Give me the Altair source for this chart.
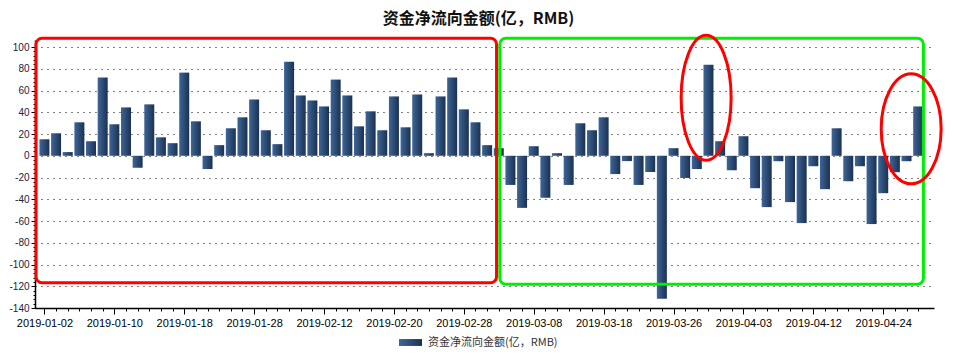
import json
import altair as alt
import pandas as pd

# ---- data ----
dates = [
    "2019-01-02", "2019-01-03", "2019-01-04", "2019-01-07", "2019-01-08", "2019-01-09",
    "2019-01-10", "2019-01-11", "2019-01-14", "2019-01-15", "2019-01-16", "2019-01-17",
    "2019-01-18", "2019-01-21", "2019-01-22", "2019-01-23", "2019-01-24", "2019-01-25",
    "2019-01-28", "2019-01-29", "2019-01-30", "2019-01-31", "2019-02-01", "2019-02-11",
    "2019-02-12", "2019-02-13", "2019-02-14", "2019-02-15", "2019-02-18", "2019-02-19",
    "2019-02-20", "2019-02-21", "2019-02-22", "2019-02-25", "2019-02-26", "2019-02-27",
    "2019-02-28", "2019-03-01", "2019-03-04", "2019-03-05", "2019-03-06", "2019-03-07",
    "2019-03-08", "2019-03-11", "2019-03-12", "2019-03-13", "2019-03-14", "2019-03-15",
    "2019-03-18", "2019-03-19", "2019-03-20", "2019-03-21", "2019-03-22", "2019-03-25",
    "2019-03-26", "2019-03-27", "2019-03-28", "2019-03-29", "2019-04-01", "2019-04-02",
    "2019-04-03", "2019-04-04", "2019-04-08", "2019-04-09", "2019-04-10", "2019-04-11",
    "2019-04-12", "2019-04-15", "2019-04-16", "2019-04-17", "2019-04-18", "2019-04-19",
    "2019-04-24", "2019-04-25", "2019-04-26", "2019-04-29",
]
values = [
    15.2, 20.7, 3.4, 30.8, 13.4, 72.0, 29.0, 44.5, -11.0, 47.3, 17.0, 11.6,
    76.5, 31.7, -12.2, 9.8, 25.3, 35.4, 51.8, 23.5, 10.7, 86.6, 55.5, 50.9,
    45.4, 70.1, 55.5, 27.1, 40.9, 23.5, 54.6, 26.2, 56.4, 2.4, 54.6, 72.0,
    42.7, 30.8, 9.8, 7.0, -26.8, -47.9, 8.8, -38.7, 2.4, -26.8, 29.9, 23.5,
    35.4, -16.8, -4.9, -26.8, -14.9, -131.6, 7.0, -20.4, -12.2, 83.8, 13.4, -13.3,
    18.0, -29.8, -47.2, -5.0, -42.6, -61.9, -9.6, -30.7, 25.3, -23.4, -9.6, -62.8,
    -34.4, -15.1, -5.0, 45.4,
]
tick_labels = [
    "2019-01-02", "2019-01-10", "2019-01-18", "2019-01-28", "2019-02-12", "2019-02-20",
    "2019-02-28", "2019-03-08", "2019-03-18", "2019-03-26", "2019-04-03", "2019-04-12",
    "2019-04-24",
]
series_name = "资金净流向金额(亿，RMB)"
title_text = "资金净流向金额(亿，RMB)"

# annotation boxes drawn over the chart (bar-index / value coordinates)
box_x = [-0.72, 39.09]
box_x2 = [38.81, 75.45]
box_y = [108.1, 108.1]
box_y2 = [-116.8, -118.2]
box_color = ["#ff0000", "#00ee00"]
ring_x = [56.8, 74.4]
ring_y = [53.3, 24.8]

df = pd.DataFrame({"idx": list(range(len(values))), "date": dates, "value": values,
                   "series": [series_name] * len(values)})
boxes = pd.DataFrame({"idx": box_x, "idx2": box_x2, "value": box_y, "value2": box_y2,
                      "c": box_color})

W, H = 899, 268
x_dom = [-0.38, 75.93]
y_dom = [-140, 106.5]
xs = alt.Scale(domain=x_dom, nice=False, zero=False)
ys = alt.Scale(domain=y_dom, nice=False, zero=False)

label_js = json.dumps(tick_labels)

x_axis = alt.Axis(
    values=list(range(len(values))),
    tickCount=500,
    labelExpr=f"datum.value % 6 === 0 ? {label_js}[datum.value / 6] : ''",
    labelOverlap=False,
    labelFontSize=11,
    labelFont="Liberation Sans",
    labelColor="#000000",
    labelPadding=3,
    tickColor="#000000",
    tickSize={"condition": {"test": "datum.value % 6 === 0", "value": 6}, "value": 3},
    domainColor="#000000",
    domainWidth=1.5,
    grid=False,
)
y_axis = alt.Axis(
    values=list(range(-140, 101, 4)),
    tickCount=500,
    labelExpr="datum.value % 20 === 0 ? datum.value : ''",
    labelOverlap=False,
    labelFontSize=10,
    labelFont="Liberation Sans",
    labelColor="#1a2238",
    labelPadding=2,
    tickColor="#000000",
    tickSize={"condition": {"test": "datum.value % 20 === 0", "value": 4}, "value": 2},
    domainColor="#000000",
    domainWidth=1.5,
    grid=True,
    gridColor="#000000",
    gridDash=[1, 5],
    gridWidth=1,
    gridOpacity={"condition": {"test": "datum.value % 20 === 0", "value": 1}, "value": 0},
)

grad = alt.Gradient(
    gradient="linear",
    stops=[alt.GradientStop(color="#3e6697", offset=0),
           alt.GradientStop(color="#1b3152", offset=1)],
    x1=0, x2=1, y1=0, y2=0,
)

bars = alt.Chart(df).mark_bar(fill=grad, size=10, strokeWidth=0).encode(
    x=alt.X("idx:Q", scale=xs, axis=x_axis, title=None),
    y=alt.Y("value:Q", scale=ys, axis=y_axis, title=None),
    stroke=alt.Stroke(
        "series:N",
        scale=alt.Scale(range=["#2c4a72"]),
        legend=alt.Legend(
            title=None,
            orient="none",
            legendX=364,
            legendY=291,
            symbolType="M-1,-0.3L1,-0.3L1,0.3L-1,0.3Z",
            symbolSize=529,
            symbolFillColor="#2c4a72",
            symbolStrokeWidth=0,
            labelFont="Noto Sans CJK SC",
            labelFontSize=11,
            labelColor="#333333",
            labelOffset=6,
        ),
    ),
    tooltip=["date:N", "value:Q"],
)

rects = alt.Chart(boxes).mark_rect(filled=False, strokeWidth=3, cornerRadius=6).encode(
    x=alt.X("idx:Q", scale=xs, title=None),
    x2="idx2:Q",
    y=alt.Y("value:Q", scale=ys, title=None),
    y2="value2:Q",
    stroke=alt.Stroke("c:N", scale=None, legend=None),
)

ring1 = alt.Chart(pd.DataFrame({"idx": [ring_x[0]], "value": [ring_y[0]]})).mark_point(
    shape="M-0.4,0A0.4,1,0,1,0,0.4,0A0.4,1,0,1,0,-0.4,0Z",
    size=15625, filled=False, stroke="#ff0000", strokeWidth=3, opacity=1,
).encode(
    x=alt.X("idx:Q", scale=xs, title=None),
    y=alt.Y("value:Q", scale=ys, title=None),
)
ring2 = alt.Chart(pd.DataFrame({"idx": [ring_x[1]], "value": [ring_y[1]]})).mark_point(
    shape="M-0.545,0A0.545,1,0,1,0,0.545,0A0.545,1,0,1,0,-0.545,0Z",
    size=12100, filled=False, stroke="#ff0000", strokeWidth=3, opacity=1,
).encode(
    x=alt.X("idx:Q", scale=xs, title=None),
    y=alt.Y("value:Q", scale=ys, title=None),
)

chart = alt.layer(bars, rects, ring1, ring2).properties(
    width=W,
    height=H,
    title=alt.TitleParams(
        text=title_text,
        font="Noto Sans CJK SC",
        fontSize=16,
        fontWeight="bold",
        color="#111111",
        anchor="middle",
        frame="group",
        offset=2,
        dx=-6,
    ),
    autosize=alt.AutoSizeParams(type="none"),
    padding={"left": 27, "top": 32, "right": 20, "bottom": 46},
    background="white",
).configure_view(stroke=None)

chart.save("out.html", embed_options={"renderer": "svg", "actions": False})
